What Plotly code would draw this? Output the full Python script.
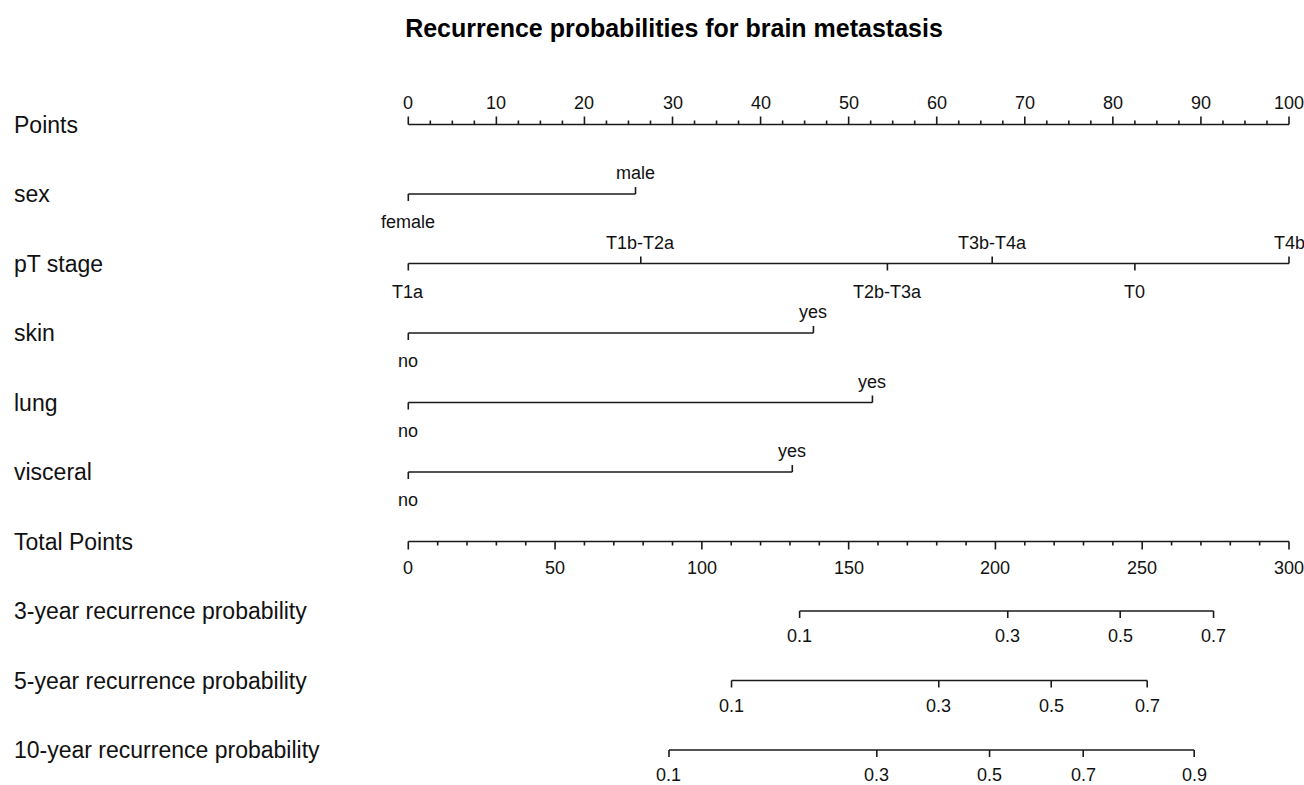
import plotly.graph_objects as go

# ---------------- data ----------------
TITLE = "Recurrence probabilities for brain metastasis"

row_names = ["Points", "sex", "pT stage", "skin", "lung", "visceral", "Total Points",
             "3-year recurrence probability", "5-year recurrence probability",
             "10-year recurrence probability"]

points_ticks = [0, 10, 20, 30, 40, 50, 60, 70, 80, 90, 100]
total_ticks = [0, 50, 100, 150, 200, 250, 300]

sex_levels = ["female", "male"]
sex_points = [0, 25.8]

pt_levels = ["T1a", "T1b-T2a", "T2b-T3a", "T3b-T4a", "T0", "T4b"]
pt_points = [0, 26.4, 54.4, 66.3, 82.5, 100]

skin_levels = ["no", "yes"]
skin_points = [0, 46.0]

lung_levels = ["no", "yes"]
lung_points = [0, 52.7]

visceral_levels = ["no", "yes"]
visceral_points = [0, 43.6]

prob3_labels = ["0.1", "0.3", "0.5", "0.7"]
prob3_total = [133.3, 204.2, 242.5, 274.3]

prob5_labels = ["0.1", "0.3", "0.5", "0.7"]
prob5_total = [110.1, 180.7, 219.0, 251.7]

prob10_labels = ["0.1", "0.3", "0.5", "0.7", "0.9"]
prob10_total = [88.8, 159.6, 198.0, 229.9, 267.7]

# ---------------- geometry ----------------
W, H = 1304, 785
PX_PER_POINT = 8.807      # horizontal pixels per point
X_ORIGIN = 408.3          # pixel position of 0 points
ROW_PX = 69.5             # vertical distance between rows
TOP_ROW_PX = 124.5        # pixel position of the Points axis

TOTAL_MAX = 300.0
POINTS_MAX = 100.0


def px(v):
    """Convert a vertical pixel distance into row units."""
    return v / ROW_PX


def tot(v):
    """Map total points onto the points scale."""
    return v * POINTS_MAX / TOTAL_MAX


LINE = dict(color="#1a1a1a", width=1.6)
FONT = "Liberation Sans, Arial, sans-serif"
TICK_FONT = dict(family=FONT, size=18, color="#111")
LEVEL_FONT = dict(family=FONT, size=18, color="#111")
ROW_FONT = dict(family=FONT, size=23, color="#111")

fig = go.Figure()
annotations = []


def add_segments(segs):
    xs, ys = [], []
    for (x0, y0, x1, y1) in segs:
        xs += [x0, x1, None]
        ys += [y0, y1, None]
    fig.add_trace(go.Scatter(x=xs, y=ys, mode="lines", line=LINE,
                             hoverinfo="skip", showlegend=False))


def label(x, y, text, font):
    annotations.append(dict(x=x, y=y, xref="x", yref="y", text=text, showarrow=False,
                            xanchor="center", yanchor="middle", font=font))


# Points axis (ticks up, labels above)
r = 0
segs = [(0, r, POINTS_MAX, r)]
minor = [i * 2.5 for i in range(41)]
for v in minor:
    length = 8 if v in points_ticks else 4
    segs.append((v, r, v, r - px(length)))
add_segments(segs)
for v in points_ticks:
    label(v, r - px(22), str(v), TICK_FONT)


# categorical variables: labels alternate below / above along the line
def variable_row(r, levels, pts):
    segs = [(min(pts), r, max(pts), r)]
    order = sorted(range(len(pts)), key=lambda i: pts[i])
    for k, i in enumerate(order):
        up = (k % 2 == 1)
        x = pts[i]
        if up:
            segs.append((x, r, x, r - px(7)))
            label(x, r - px(21), levels[i], LEVEL_FONT)
        else:
            segs.append((x, r, x, r + px(7)))
            label(x, r + px(28), levels[i], LEVEL_FONT)
    add_segments(segs)


variable_row(1, sex_levels, sex_points)
variable_row(2, pt_levels, pt_points)
variable_row(3, skin_levels, skin_points)
variable_row(4, lung_levels, lung_points)
variable_row(5, visceral_levels, visceral_points)

# Total Points axis (ticks down, labels below)
r = 6
segs = [(0, r, POINTS_MAX, r)]
for v in range(0, 301, 10):
    length = 8 if v in total_ticks else 4
    segs.append((tot(v), r, tot(v), r + px(length)))
add_segments(segs)
for v in total_ticks:
    label(tot(v), r + px(26.5), str(v), TICK_FONT)


# probability scales placed on the total points scale
def prob_row(r, labels, totals):
    xs = [tot(t) for t in totals]
    segs = [(min(xs), r, max(xs), r)]
    for x in xs:
        segs.append((x, r, x, r + px(7)))
    add_segments(segs)
    for x, t in zip(xs, labels):
        label(x, r + px(25), t, TICK_FONT)


prob_row(7, prob3_labels, prob3_total)
prob_row(8, prob5_labels, prob5_total)
prob_row(9, prob10_labels, prob10_total)

# row names on the left
for i, name in enumerate(row_names):
    annotations.append(dict(x=12 / W, y=i, xref="paper", yref="y", text=name,
                            showarrow=False, xanchor="left", yanchor="middle",
                            font=ROW_FONT))

x_range = [-X_ORIGIN / PX_PER_POINT, (W - X_ORIGIN) / PX_PER_POINT]
y_range = [(H - TOP_ROW_PX) / ROW_PX, -TOP_ROW_PX / ROW_PX]

fig.update_layout(
    width=W, height=H,
    margin=dict(l=0, r=0, t=0, b=0),
    paper_bgcolor="white", plot_bgcolor="white",
    title=dict(text="<b>" + TITLE + "</b>", x=674 / W, xanchor="center",
               y=1 - 28 / H, yanchor="middle",
               font=dict(family=FONT, size=25, color="#000")),
    xaxis=dict(range=x_range, visible=False, fixedrange=True),
    yaxis=dict(range=y_range, visible=False, fixedrange=True),
    annotations=annotations,
    showlegend=False,
)

fig.write_html("out.html")
